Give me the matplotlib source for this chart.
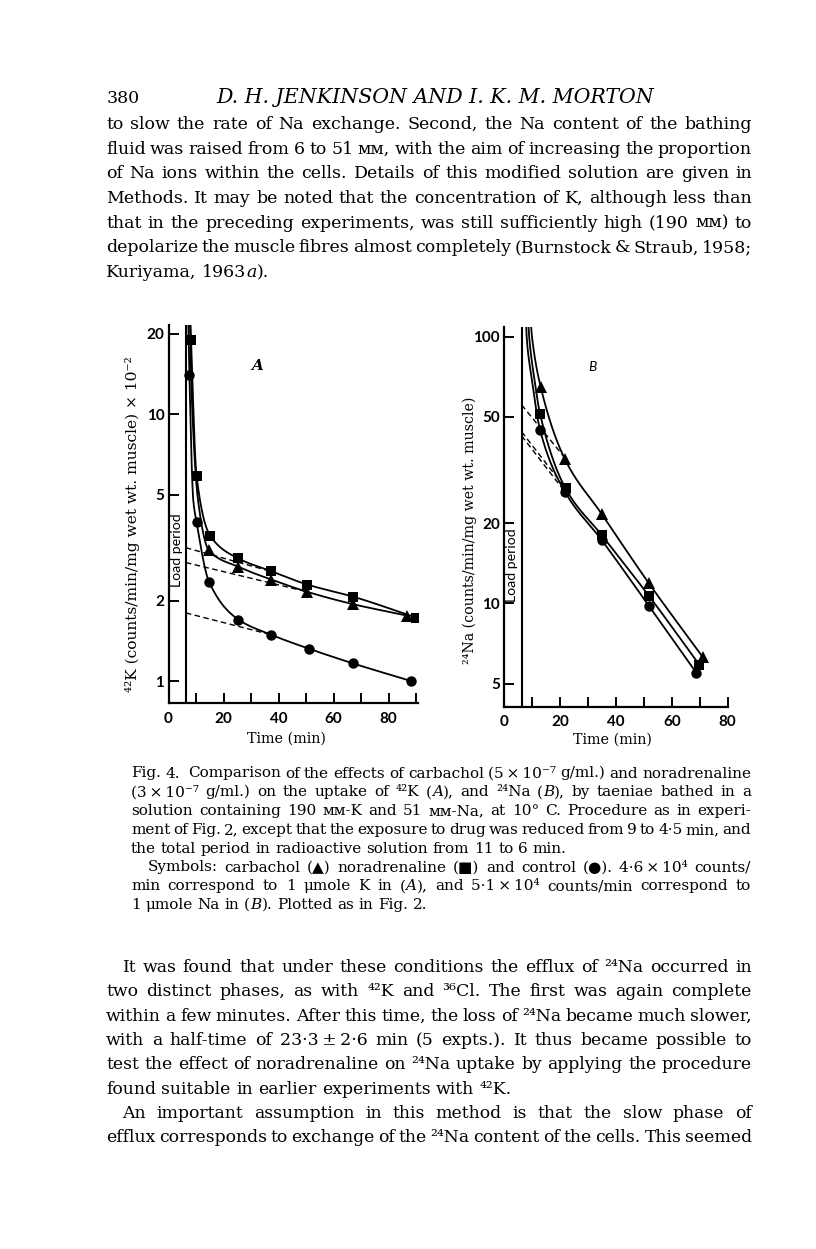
import numpy as np
import matplotlib
matplotlib.use("Agg")
import matplotlib.pyplot as plt
from matplotlib.font_manager import FontProperties
from matplotlib.ticker import FixedLocator, NullLocator, FixedFormatter

W, H = 816, 1249

# ---------------- data, panel A (42K) ----------------
a_tri_t = [14.6, 25.4, 37.4, 50.4, 67.2, 86.6]
a_tri_y = [3.10, 2.68, 2.40, 2.16, 1.94, 1.76]
a_sq_t = [8.2, 10.2, 15.2, 25.4, 37.4, 50.4, 67.2, 90.0]
a_sq_y = [19.0, 5.88, 3.50, 2.88, 2.58, 2.30, 2.07, 1.73]
a_ci_t = [7.6, 10.2, 14.7, 25.4, 37.4, 51.2, 67.0, 88.2]
a_ci_y = [14.0, 3.94, 2.36, 1.70, 1.49, 1.32, 1.165, 1.0]

# hand-drawn curves: extra knots (early, steep part)
a_tri_knot_t = [7.8, 8.4, 10.8]
a_tri_knot_y = [22.0, 12.0, 4.7]
a_sq_knot_t = [8.0]
a_sq_knot_y = [22.0]
a_ci_knot_t = [7.2, 9.0]
a_ci_knot_y = [22.0, 4.77]

# extrapolated slow phase (dashed)
a_dash_t = [[6.3, 37.0], [6.3, 50.4], [6.3, 37.4]]
a_dash_y = [[3.16, 2.58], [2.78, 2.16], [1.80, 1.49]]

# ---------------- data, panel B (24Na) ----------------
b_tri_t = [13.1, 21.8, 35.0, 51.8, 71.0]
b_tri_y = [64.9, 34.7, 21.6, 11.9, 6.31]
b_sq_t = [12.9, 22.0, 35.0, 51.9, 69.8]
b_sq_y = [51.3, 27.0, 18.0, 10.65, 5.90]
b_ci_t = [12.9, 21.8, 34.9, 51.8, 68.8]
b_ci_y = [44.7, 26.2, 17.3, 9.8, 5.49]

b_tri_knot_t = [9.6, 10.0]
b_tri_knot_y = [112.0, 100.0]
b_sq_knot_t = [8.7, 9.0, 10.8]
b_sq_knot_y = [112.0, 100.0, 70.0]
b_ci_knot_t = [7.9, 8.1, 9.9]
b_ci_knot_y = [112.0, 100.0, 70.0]

b_dash_t = [[6.3, 22.4], [6.3, 22.0], [6.3, 21.8]]
b_dash_y = [[55.5, 34.5], [44.0, 27.0], [42.5, 26.2]]

LOAD_T = 6.3

a_yticks = [1, 2, 5, 10, 20]
b_yticks = [5, 10, 20, 50, 100]
x_labels = [0, 20, 40, 60, 80]

# ---------------- page text ----------------
page_no = "380"
running_head = "D. H. JENKINSON AND I. K. M. MORTON"

top_lines = [
    "to slow the rate of Na exchange. Second, the Na content of the bathing",
    "fluid was raised from 6 to 51 ᴍᴍ, with the aim of increasing the proportion",
    "of Na ions within the cells. Details of this modified solution are given in",
    "Methods. It may be noted that the concentration of K, although less than",
    "that in the preceding experiments, was still sufficiently high (190 ᴍᴍ) to",
    "depolarize the muscle fibres almost completely (Burnstock & Straub, 1958;",
    "Kuriyama, 1963_a_).",
]
top_last = [6]
top_indent = []

cap_lines = [
    "Fig. 4.  Comparison of the effects of carbachol (5\u2009×\u200910⁻⁷ g/ml.) and noradrenaline",
    "(3\u2009×\u200910⁻⁷ g/ml.) on the uptake of ⁴²K (_A_), and ²⁴Na (_B_), by taeniae bathed in a",
    "solution containing 190 ᴍᴍ-K and 51 ᴍᴍ-Na, at 10° C. Procedure as in experi-",
    "ment of Fig. 2, except that the exposure to drug was reduced from 9 to 4·5 min, and",
    "the total period in radioactive solution from 11 to 6 min.",
    "Symbols: carbachol (▲) noradrenaline (■) and control (●). 4·6\u2009×\u200910⁴ counts/",
    "min correspond to 1 μmole K in (_A_), and 5·1\u2009×\u200910⁴ counts/min correspond to",
    "1 μmole Na in (_B_). Plotted as in Fig. 2.",
]
cap_last = [4, 7]
cap_indent = [5]

bot_lines = [
    "It was found that under these conditions the efflux of ²⁴Na occurred in",
    "two distinct phases, as with ⁴²K and ³⁶Cl. The first was again complete",
    "within a few minutes. After this time, the loss of ²⁴Na became much slower,",
    "with a half-time of 23·3\u2009±\u20092·6 min (5 expts.). It thus became possible to",
    "test the effect of noradrenaline on ²⁴Na uptake by applying the procedure",
    "found suitable in earlier experiments with ⁴²K.",
    "An important assumption in this method is that the slow phase of",
    "efflux corresponds to exchange of the ²⁴Na content of the cells. This seemed",
]
bot_last = [5]
bot_indent = [0, 6]

SERIF = ["DejaVu Serif", "DejaVu Sans"]
SANS = ["Lato", "DejaVu Sans"]

fig = plt.figure(figsize=(W / 100, H / 100), dpi=100)
fig.patch.set_facecolor("white")
renderer = fig.canvas.get_renderer()


def fp(size, style="normal", weight="normal", family=SERIF):
    return FontProperties(family=family, size=size, style=style, weight=weight)


def width(s, prop):
    return renderer.get_text_width_height_descent(s, prop, ismath=False)[0]


def segs(word):
    return [(p, i % 2 == 1) for i, p in enumerate(word.split("_")) if p]


def word_width(word, size):
    return sum(width(p, fp(size, "italic" if it else "normal")) for p, it in segs(word))


def fit_size(s, target, prop_fn):
    return 10 * target / width(s, prop_fn(10))


def px(x, y):
    return x / W, 1 - y / H


def block(lines, x0, x1, y0, lead, last, indent, ind_px, min_gap=0.6):
    # font size: widest justified line fits when word gaps shrink to min_gap * space
    space10 = width("a a", fp(10)) - width("aa", fp(10))
    ratios = []
    for i, ln in enumerate(lines):
        if i in last:
            continue
        words = ln.split(" ")
        nat = sum(word_width(w, 10) for w in words) + min_gap * space10 * (len(words) - 1)
        avail = x1 - x0 - (ind_px if i in indent else 0)
        ratios.append(avail / nat)
    size = 10 * min(ratios)
    space = space10 * size / 10
    for i, ln in enumerate(lines):
        words = ln.split(" ")
        left = x0 + (ind_px if i in indent else 0)
        ws = [word_width(w, size) for w in words]
        if i in last or len(words) == 1:
            gap = space
        else:
            gap = (x1 - left - sum(ws)) / (len(words) - 1)
        x = left
        y = y0 + i * lead
        for w, ww in zip(words, ws):
            xx = x
            for p, it in segs(w):
                prop = fp(size, "italic" if it else "normal")
                fig.text(*px(xx, y), p, fontproperties=prop, ha="left", va="baseline")
                xx += width(p, prop)
            x += ww + gap
    return size


body_size = block(top_lines, 106, 752, 129, 24.7, top_last, top_indent, 16)
fig.text(*px(107, 103), page_no, fontproperties=fp(body_size), ha="left", va="baseline")
hs = fit_size(running_head, 438, lambda s: fp(s, "italic"))
fig.text(*px(216, 103), running_head, fontproperties=fp(hs, "italic"), ha="left", va="baseline")
block(cap_lines, 131, 751, 777.5, 18.8, cap_last, cap_indent, 17)
block(bot_lines, 106, 752, 972, 24.35, bot_last, bot_indent, 16)


# ---------------- curves ----------------
def pchip(x, y, xs):
    x = np.asarray(x, float)
    y = np.asarray(y, float)
    h = np.diff(x)
    d = np.diff(y) / h
    m = np.zeros_like(y)
    m[0], m[-1] = d[0], d[-1]
    for k in range(1, len(x) - 1):
        if d[k - 1] * d[k] > 0:
            w1 = 2 * h[k] + h[k - 1]
            w2 = h[k] + 2 * h[k - 1]
            m[k] = (w1 + w2) / (w1 / d[k - 1] + w2 / d[k])
    i = np.clip(np.searchsorted(x, xs) - 1, 0, len(h) - 1)
    s = (xs - x[i]) / h[i]
    h00 = 2 * s**3 - 3 * s**2 + 1
    h10 = s**3 - 2 * s**2 + s
    h01 = -2 * s**3 + 3 * s**2
    h11 = s**3 - s**2
    return h00 * y[i] + h10 * h[i] * m[i] + h01 * y[i + 1] + h11 * h[i] * m[i + 1]


def fitted_curve(ax, kt, ky, t, y):
    ct = np.array(list(kt) + list(t))
    cy = np.log10(np.array(list(ky) + list(y)))
    order = np.argsort(ct)
    ct, cy = ct[order], cy[order]
    ts = np.linspace(ct[0], ct[-1], 600)
    ax.plot(ts, 10 ** pchip(ct, cy, ts), color="black", lw=1.3, zorder=3)


def style_axes(ax, xmax, ylo, yhi, yticks, xmax_tick):
    ax.set_yscale("log")
    ax.set_xlim(0, xmax)
    ax.set_ylim(ylo, yhi)
    for side in ("top", "right"):
        ax.spines[side].set_visible(False)
    for side in ("left", "bottom"):
        ax.spines[side].set_linewidth(1.6)
    ax.yaxis.set_major_locator(FixedLocator(yticks))
    ax.yaxis.set_major_formatter(FixedFormatter([str(v) for v in yticks]))
    ax.yaxis.set_minor_locator(NullLocator())
    ax.xaxis.set_major_locator(FixedLocator(x_labels))
    ax.xaxis.set_minor_locator(FixedLocator(list(range(10, xmax_tick + 1, 20))))
    ax.tick_params(which="both", direction="in", length=7, width=1.4, color="black")
    ax.tick_params(axis="y", pad=3)
    ax.tick_params(axis="x", pad=6)
    tf = fp(11, weight="bold", family=SANS)
    for lab in ax.get_xticklabels() + ax.get_yticklabels():
        lab.set_fontproperties(tf)
    ax.axvline(LOAD_T, color="black", lw=1.5, zorder=2)


def series(ax, t, y, marker, ms):
    ax.plot(t, y, linestyle="none", marker=marker, ms=ms, color="black",
            markeredgewidth=0, zorder=4)


def dashes(ax, dt, dy):
    for t, y in zip(dt, dy):
        ax.plot(t, y, color="black", lw=1.0, linestyle=(0, (4, 2.5)), zorder=2)


ax_a = fig.add_axes([168.5 / W, 1 - 703.3 / H, (418.2 - 168.5) / W, (703.3 - 325) / H])
style_axes(ax_a, 90.8, 0.825, 21.6, a_yticks, 90)
fitted_curve(ax_a, a_tri_knot_t, a_tri_knot_y, a_tri_t, a_tri_y)
fitted_curve(ax_a, a_sq_knot_t, a_sq_knot_y, a_sq_t, a_sq_y)
fitted_curve(ax_a, a_ci_knot_t, a_ci_knot_y, a_ci_t, a_ci_y)
dashes(ax_a, a_dash_t, a_dash_y)
series(ax_a, a_tri_t, a_tri_y, "^", 8)
series(ax_a, a_sq_t, a_sq_y, "s", 6.5)
series(ax_a, a_ci_t, a_ci_y, "o", 7.5)

ax_b = fig.add_axes([504 / W, 1 - 706.7 / H, (727.7 - 504) / W, (706.7 - 326.7) / H])
style_axes(ax_b, 80, 4.1, 109, b_yticks, 70)
fitted_curve(ax_b, b_tri_knot_t, b_tri_knot_y, b_tri_t, b_tri_y)
fitted_curve(ax_b, b_sq_knot_t, b_sq_knot_y, b_sq_t, b_sq_y)
fitted_curve(ax_b, b_ci_knot_t, b_ci_knot_y, b_ci_t, b_ci_y)
dashes(ax_b, b_dash_t, b_dash_y)
series(ax_b, b_tri_t, b_tri_y, "^", 8)
series(ax_b, b_sq_t, b_sq_y, "s", 6.5)
series(ax_b, b_ci_t, b_ci_y, "o", 7.5)

# axis titles and panel marks
a_ylab = "⁴²K (counts/min/mg wet wt. muscle) × 10⁻²"
b_ylab = "²⁴Na (counts/min/mg wet wt. muscle)"
fig.text(*px(133, 524), a_ylab, fontproperties=fp(fit_size(a_ylab, 338, fp)),
         rotation=90, ha="center", va="center")
fig.text(*px(470, 530), b_ylab, fontproperties=fp(fit_size(b_ylab, 266, fp)),
         rotation=90, ha="center", va="center")
xl = "Time (min)"
for cx, cy in ((286.7, 738.5), (612.7, 740)):
    fig.text(*px(cx, cy), xl, fontproperties=fp(fit_size(xl, 80, fp)), ha="center", va="center")

fig.text(*px(257.5, 366), "A", fontproperties=fp(11, "italic", "bold"), ha="center", va="center")
fig.text(*px(592.5, 367), "B", fontproperties=fp(10, "italic", family=SANS), ha="center", va="center")

lp = "Load period"
lp_prop = fp(fit_size(lp, 74, lambda s: fp(s, family=SANS)), family=SANS)
fig.text(*px(177, 550), lp, fontproperties=lp_prop, rotation=90, ha="center", va="center")
fig.text(*px(512.5, 565), lp, fontproperties=lp_prop, rotation=90, ha="center", va="center")

fig.savefig("out.png", dpi=100, facecolor="white")
